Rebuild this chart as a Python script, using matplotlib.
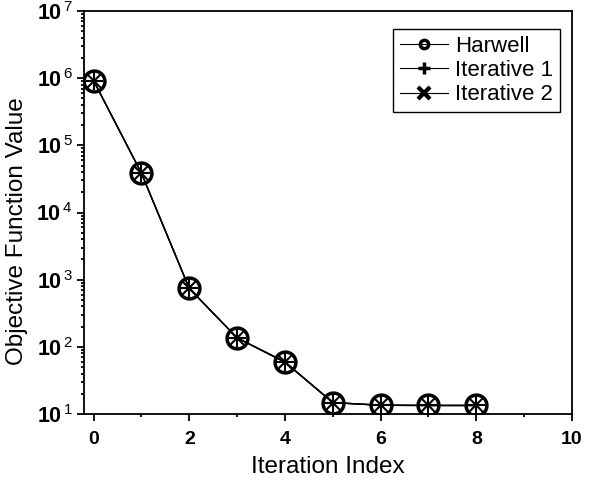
import matplotlib.pyplot as plt
from matplotlib.ticker import LogLocator, MultipleLocator, NullFormatter, FuncFormatter
import numpy as np

plt.rcParams['font.family'] = ['Liberation Sans', 'DejaVu Sans']
plt.rcParams['mathtext.fontset'] = 'custom'
plt.rcParams['mathtext.rm'] = 'Liberation Sans'
plt.rcParams['mathtext.bf'] = 'Liberation Sans:bold'

iterations = [0, 1, 2, 3, 4, 5, 6, 7, 8]
harwell = [9.2e5, 3.85e4, 740, 136, 60, 14.8, 13.5, 13.4, 13.4]
iterative1 = [9.2e5, 3.85e4, 740, 136, 59, 14.8, 13.5, 13.4, 13.4]
iterative2 = [9.2e5, 3.85e4, 740, 136, 59, 14.8, 13.5, 13.4, 13.4]

fig = plt.figure(figsize=(5.93, 4.8), dpi=100)
ax = fig.add_axes([84 / 593, 1 - 414 / 480, (572 - 84) / 593, (414 - 11) / 480])

ax.plot(iterations, harwell, color='black', lw=1, marker='o', ms=15,
        mfc='none', mec='black', mew=2.5, label='Harwell')
ax.plot(iterations, iterative1, color='black', lw=1, marker='+', ms=13,
        mew=1.5, label='Iterative 1')
ax.plot(iterations, iterative2, color='black', lw=1, marker='x', ms=10,
        mew=1.5, label='Iterative 2')

ax.set_yscale('log')
ax.set_ylim(10, 1e7)
ax.set_xlim(-0.2, 10)
ax.xaxis.set_major_locator(MultipleLocator(2))
ax.xaxis.set_minor_locator(MultipleLocator(1))
ax.yaxis.set_major_locator(LogLocator(base=10, numticks=10))
ax.yaxis.set_minor_locator(LogLocator(base=10, subs=range(2, 10), numticks=20))
ax.yaxis.set_minor_formatter(NullFormatter())
ax.yaxis.set_major_formatter(FuncFormatter(
    lambda v, p: r'$\mathbf{10}^{\,\mathregular{%d}}$' % round(np.log10(v))))

ax.tick_params(which='both', direction='out', top=False, right=False, width=1.3)
ax.tick_params(which='major', length=5)
ax.tick_params(which='minor', length=2.5)
ax.tick_params(axis='x', labelsize=14, pad=7)
ax.tick_params(axis='y', labelsize=15.5, pad=3)
for lab in ax.get_xticklabels():
    lab.set_fontweight('bold')
for sp in ax.spines.values():
    sp.set_linewidth(1.3)

ax.set_xlabel('Iteration Index', fontsize=17.5, labelpad=6)
ax.set_ylabel('Objective Function Value', fontsize=17.5)
ax.yaxis.set_label_coords(-0.115, 0.454)

leg = ax.legend(loc='upper right', bbox_to_anchor=(0.975, 0.955), fontsize=16,
                fancybox=False, edgecolor='black', framealpha=1,
                handlelength=2.2, handletextpad=0.3, borderpad=0.3,
                labelspacing=0.15, borderaxespad=0)
leg.get_frame().set_linewidth(1)
sizes = [6, 9, 8]
widths = [2.5, 2.5, 3]
for h, s, w in zip(leg.legend_handles, sizes, widths):
    h.set_markersize(s)
    h.set_markeredgewidth(w)
    h.set_linewidth(0.8)

fig.savefig('out.png', dpi=100)
